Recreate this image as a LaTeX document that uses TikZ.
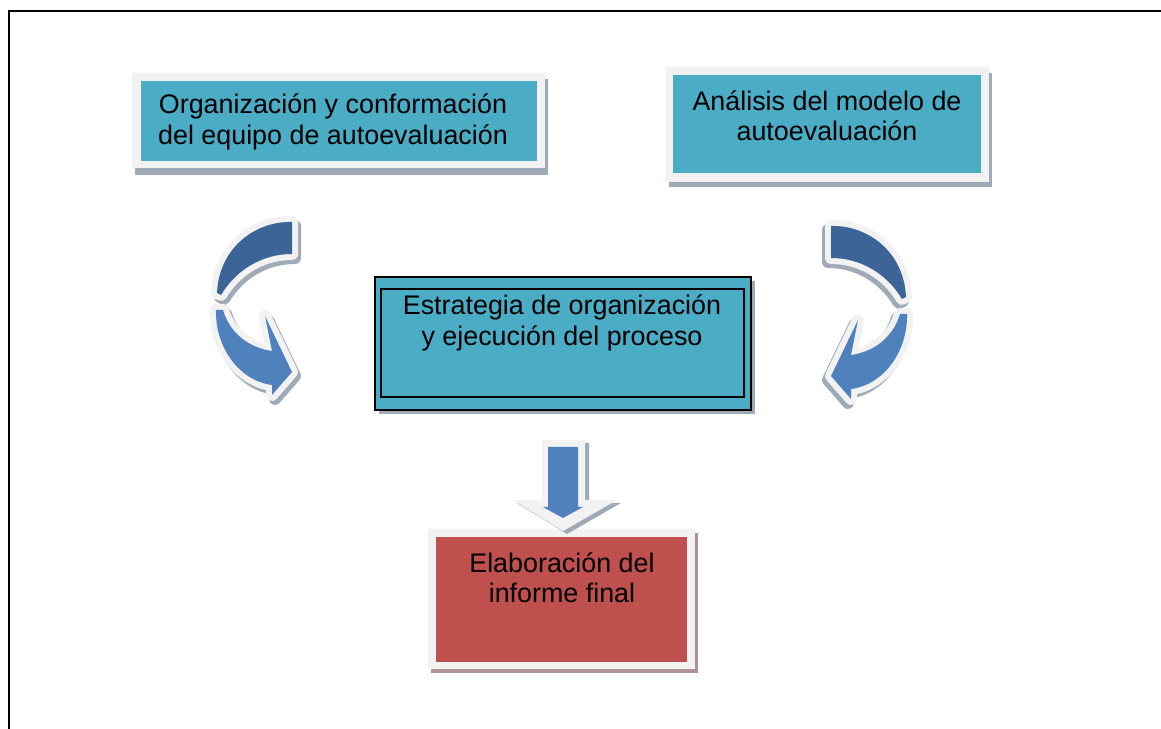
\documentclass[tikz,border=0pt]{standalone}
\usepackage{fontspec}
\setmainfont{Liberation Sans}
\usetikzlibrary{positioning}

\definecolor{boxteal}{HTML}{4BACC6}
\definecolor{boxred}{HTML}{C0504D}
\definecolor{darkarrow}{HTML}{3C6496}
\definecolor{lightarrow}{HTML}{4F81BD}
\definecolor{framegray}{HTML}{F2F2F2}
\definecolor{shadowgray}{HTML}{9EABB6}
\definecolor{shadowred}{HTML}{AC9494}

\tikzset{
  boxtext/.style={align=center, inner sep=0pt, font=\fontsize{15.3}{17.2}\selectfont},
  plainbox/.style={inner sep=0pt, outer sep=0pt},
  arrowframe/.style={draw=framegray, fill=framegray, line width=0.24cm, line join=round},
  arrowshadow/.style={draw=shadowgray, fill=shadowgray, line width=0.24cm, line join=round}
}

% the two halves of the bent arrow (left one, in pixels)
\def\darkband{(292,222) .. controls (255,221) and (219,248) .. (217,293) -- (221,295)
  .. controls (236,270) and (262,254) .. (292,254) -- cycle}
\def\lightband{(216,310) .. controls (215,348) and (240,381) .. (272,385) -- (272,395)
  -- (292,372) -- (265,316) -- (272,351) .. controls (250,348) and (230,334) .. (223,310) -- cycle}

\newcommand{\bentarrow}{%
  \begin{scope}[shift={(3,4)}]
    \filldraw[arrowshadow] \darkband;
    \filldraw[arrowshadow] \lightband;
  \end{scope}
  \filldraw[arrowframe] \darkband;
  \filldraw[arrowframe] \lightband;
  \fill[darkarrow] \darkband;
  \fill[lightarrow] \lightband;
}

\begin{document}
\begin{tikzpicture}[x=0.02cm,y=-0.02cm]

    \useasboundingbox (0,0) rectangle (1161,729);

    % page frame
    \draw[line width=1.1pt] (9,729) -- (9,11) -- (1161,11);

    % top left box
    \fill[shadowgray] (135,79) rectangle (548,175);
    \fill[framegray] (132,73) rectangle (545,168);
    \node[plainbox, fill=boxteal, minimum width=7.92cm, minimum height=1.6cm] (organizacion) at (339,121) {};
    \node[boxtext] (organizacion-txt) at (333,122) {Organización y conformación\\del equipo de autoevaluación};

    % top right box
    \fill[shadowgray] (669,73) rectangle (992,187);
    \fill[framegray] (666,67) rectangle (989,182);
    \node[plainbox, fill=boxteal, minimum width=6.16cm, minimum height=1.96cm] (analisis) at (827,124) {};
    \node[boxtext] (analisis-txt) at (827,115.5) {Análisis del modelo de\\autoevaluación};

    % middle box
    \fill[shadowgray] (379,281) rectangle (755,414);
    \node[plainbox, draw, line width=1.3pt, fill=boxteal, minimum width=7.52cm, minimum height=2.66cm] (estrategia) at (563,343.5) {};
    \draw[line width=0.7pt] (381,289) rectangle (744,397);
    \node[boxtext] (estrategia-txt) at (562,323) {Estrategia de organización\\y ejecución del proceso};

    % bottom box
    \fill[shadowred] (431,533) rectangle (698,673);
    \fill[framegray] (428,529) rectangle (695,669);
    \node[plainbox, fill=boxred, minimum width=5.02cm, minimum height=2.5cm] (informe) at (561.5,599.5) {};
    \node[boxtext] (informe-txt) at (562,577.5) {Elaboración del\\informe final};

    % bent arrows
    \bentarrow
    \begin{scope}[shift={(1123,4)}, xscale=-1]
      \bentarrow
    \end{scope}

    % down arrow
    \fill[shadowgray] (546,443) -- (589,443) -- (589,503) -- (621,503) -- (567,534) -- (517,503) -- (546,503) -- cycle;
    \fill[framegray] (542,440) -- (585,440) -- (585,500) -- (617,500) -- (563,531) -- (513,500) -- (542,500) -- cycle;
    \fill[lightarrow] (548,447) -- (578,447) -- (578,507) -- (583,507) -- (563,518) -- (543,507) -- (548,507) -- cycle;

\end{tikzpicture}
\end{document}
